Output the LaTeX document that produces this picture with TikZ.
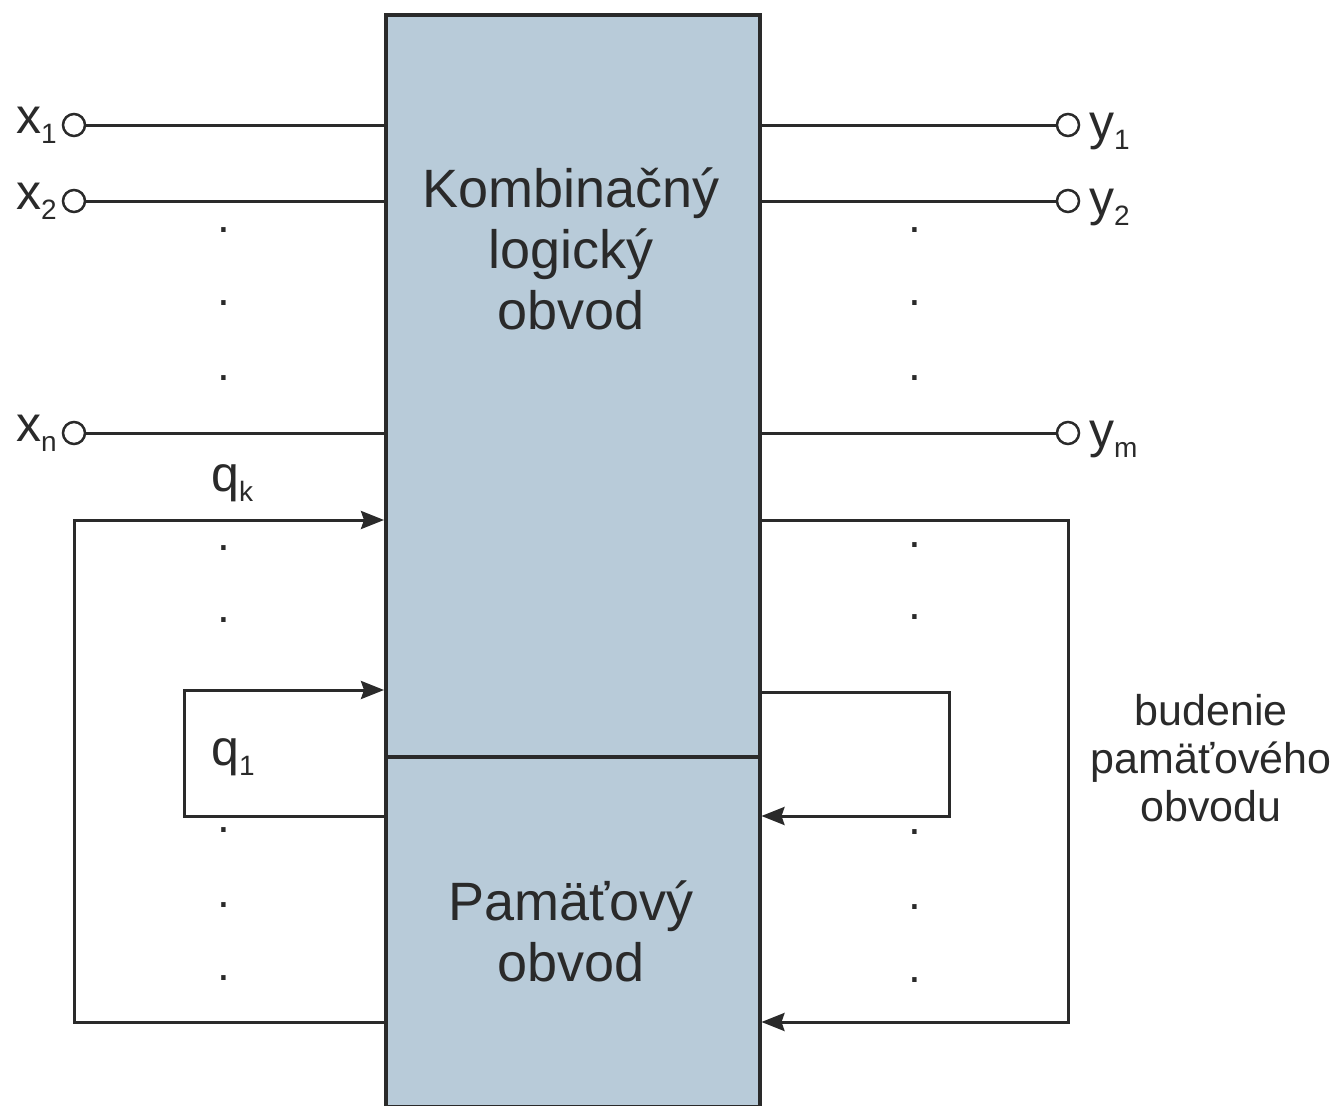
\documentclass[tikz,border=0pt]{standalone}
\usepackage{fontspec}
\setmainfont{Liberation Sans}
\usetikzlibrary{arrows.meta}
\definecolor{boxfill}{HTML}{B8CBD9}
\definecolor{ink}{HTML}{2A2A2A}
\newcommand{\lbl}[2]{{\fontsize{50}{50}\selectfont #1}\raisebox{-10pt}{\fontsize{28}{28}\selectfont #2}}
\begin{document}
\begin{tikzpicture}[x=1pt,y=1pt,
  box/.style={draw=ink, line width=3.5pt, fill=boxfill, inner sep=0pt, anchor=north west, minimum width=374pt},
  term/.style={circle, draw=ink, line width=2.5pt, fill=white, minimum size=22pt, inner sep=0pt},
  wire/.style={draw=ink, line width=3pt},
  arr/.style={wire, -{Stealth[length=23pt,width=18pt,inset=3pt]}},
  big/.style={text=ink, align=center, font=\fontsize{54}{61}\selectfont},
  side/.style={text=ink, align=center, font=\fontsize{43}{48}\selectfont},
  lab/.style={text=ink, inner sep=0pt},
  dot/.style={text=ink, inner sep=0pt, font=\fontsize{46}{46}\selectfont}]
\useasboundingbox (0,0) rectangle (1339,-1106);
\fill[white] (0,0) rectangle (1339,-1106);

% boxes
\node[box, minimum height=742pt] (comb) at (384,-13) {};
\node[box, minimum height=350pt] (mem) at (384,-755) {};

\node[big] (combtext) at (571,-249) {Kombinačný\\logický\\obvod};
\node[big] (memtext) at (571,-931) {Pamäťový\\obvod};
\node[side] (budtext) at (1211,-758) {budenie\\pamäťového\\obvodu};

% terminals
\node[term] (x1) at (74,-125) {};
\node[term] (x2) at (74,-201) {};
\node[term] (xn) at (74,-433) {};
\node[term] (y1) at (1068,-125) {};
\node[term] (y2) at (1068,-201) {};
\node[term] (ym) at (1068,-433) {};

\draw[wire] (x1) -- (x1 -| comb.west);
\draw[wire] (x2) -- (x2 -| comb.west);
\draw[wire] (xn) -- (xn -| comb.west);
\draw[wire] (y1) -- (y1 -| comb.east);
\draw[wire] (y2) -- (y2 -| comb.east);
\draw[wire] (ym) -- (ym -| comb.east);

% labels
\node[lab, anchor=base west] (lx1) at (16,-133) {\lbl{x}{1}};
\node[lab, anchor=base west] (lx2) at (16,-209) {\lbl{x}{2}};
\node[lab, anchor=base west] (lxn) at (16,-441) {\lbl{x}{n}};
\node[lab, anchor=base west] (ly1) at (1089,-139) {\lbl{y}{1}};
\node[lab, anchor=base west] (ly2) at (1089,-215) {\lbl{y}{2}};
\node[lab, anchor=base west] (lym) at (1089,-447) {\lbl{y}{m}};
\node[lab, anchor=base west] (lqk) at (211,-491) {\lbl{q}{k}};
\node[lab, anchor=base west] (lq1) at (211,-765) {\lbl{q}{1}};

% feedback coordinates
\coordinate (lo) at (74,-1022);
\coordinate (li) at (184,-816);
\coordinate (ri) at (949,-692);
\coordinate (ro) at (1068,-520);

\draw[arr] (lo -| mem.west) -- (lo) |- (lo |- 0,-520) -- (comb.west |- 0,-520);
\draw[arr] (li -| mem.west) -- (li) |- (li |- 0,-690) -- (comb.west |- 0,-690);
\draw[arr] (ri -| comb.east) -- (ri) |- (ri |- 0,-816) -- (mem.east |- 0,-816);
\draw[arr] (ro -| comb.east) -- (ro) |- (ro |- 0,-1022) -- (mem.east |- 0,-1022);

% dots
\foreach \y [count=\i] in {230,303,378,548,620,830,905,978} {
  \node[dot] (ld\i) at (224,-\y) {.};
}
\foreach \y [count=\i] in {230,303,378,545,617,832,907,980} {
  \node[dot] (rd\i) at (915,-\y) {.};
}
\end{tikzpicture}
\end{document}
